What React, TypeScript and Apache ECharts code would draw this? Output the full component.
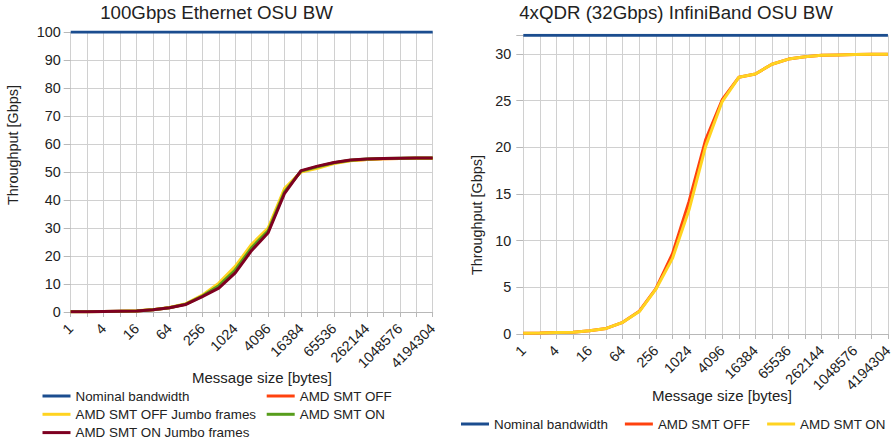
import React, { useEffect, useRef } from "react";
import * as echarts from "echarts";

const categories = ["1","2","4","8","16","32","64","128","256","512","1024","2048","4096","8192","16384","32768","65536","131072","262144","524288","1048576","2097152","4194304"];

const ethNominal = [100,100,100,100,100,100,100,100,100,100,100,100,100,100,100,100,100,100,100,100,100,100,100];
const ethSmtOff = [0.05,0.1,0.2,0.3,0.4,0.8,1.5,2.8,5.8,9.8,15.5,23.5,29.5,43.5,50.2,51.8,53.2,54.1,54.5,54.7,54.8,54.9,54.9];
const ethSmtOffJumbo = [0.05,0.1,0.2,0.3,0.45,0.85,1.6,3.0,6.0,10.3,16.3,24.2,30.0,44.2,50.0,51.3,53.0,54.0,54.5,54.7,54.8,54.9,54.9];
const ethSmtOn = [0.05,0.1,0.2,0.3,0.4,0.8,1.5,2.8,5.7,9.4,15.0,23.0,29.0,43.0,50.3,51.9,53.3,54.2,54.6,54.8,54.9,55.0,55.0];
const ethSmtOnJumbo = [0.05,0.1,0.2,0.3,0.4,0.8,1.5,2.7,5.5,8.5,14.0,22.0,28.3,42.4,50.5,52.1,53.4,54.3,54.6,54.8,54.9,55.0,55.0];

const ibNominal = [32,32,32,32,32,32,32,32,32,32,32,32,32,32,32,32,32,32,32,32,32,32,32];
const ibSmtOff = [0.07,0.1,0.15,0.2,0.35,0.6,1.25,2.45,4.85,8.6,14.2,20.8,25.1,27.5,27.85,28.9,29.45,29.7,29.85,29.9,29.95,29.97,29.97];
const ibSmtOn = [0.07,0.1,0.15,0.2,0.35,0.6,1.25,2.4,4.8,8.1,13.3,20.1,24.9,27.5,27.85,28.9,29.45,29.7,29.85,29.9,29.95,29.97,29.97];

const FONT = "Liberation Sans";
const TXT = "#222";
const GRID = "#d0d0d0";
const AXIS = "#b8b8b8";
const C_NOM = "#1b4d8f";
const C_OFF = "#ff420e";
const C_OFFJ = "#ffd320";
const C_ON = "#579d1c";
const C_ONJ = "#7e0021";

function line(name: string, data: number[], color: string) {
  return {
    name,
    type: "line",
    data,
    showSymbol: false,
    symbol: "none",
    lineStyle: { width: 3, color },
    itemStyle: { color },
  };
}

function xAxisCfg() {
  return {
    type: "category",
    data: categories,
    boundaryGap: false,
    axisLine: { show: true, lineStyle: { color: AXIS, width: 1 } },
    axisTick: { show: true, interval: 0, length: 5, lineStyle: { color: AXIS } },
    axisLabel: { interval: 1, rotate: 45, fontSize: 14.4, color: TXT, fontFamily: FONT, margin: 14 },
    splitLine: { show: true, interval: 0, lineStyle: { color: GRID, width: 1 } },
  };
}

function legendText() {
  return { fontSize: 13.4, color: TXT, fontFamily: FONT, lineHeight: 14 };
}

function leftOption(): any {
  return {
    animation: false,
    textStyle: { fontFamily: FONT },
    grid: { left: 70.7, right: 14.3, top: 32, bottom: 131 },
    xAxis: xAxisCfg(),
    yAxis: {
      type: "value",
      min: 0,
      max: 100,
      interval: 10,
      axisLine: { show: false },
      axisTick: { show: true, length: 7, lineStyle: { color: AXIS } },
      axisLabel: { fontSize: 14.4, color: TXT, fontFamily: FONT, margin: 10 },
      splitLine: { show: true, lineStyle: { color: GRID, width: 1 } },
    },
    legend: [
      {
        orient: "vertical",
        left: 42.5,
        top: 389,
        padding: 0,
        itemGap: 4.3,
        itemWidth: 28,
        itemHeight: 3,
        icon: "rect",
        textStyle: legendText(),
        data: ["Nominal bandwidth", "AMD SMT OFF Jumbo frames", "AMD SMT ON Jumbo frames"],
      },
      {
        orient: "vertical",
        left: 266.7,
        top: 389,
        padding: 0,
        itemGap: 4.3,
        itemWidth: 28,
        itemHeight: 3,
        icon: "rect",
        textStyle: legendText(),
        data: ["AMD SMT OFF", "AMD SMT ON"],
      },
    ],
    graphic: [
      { type: "text", x: 216.5, y: 12, style: { text: "100Gbps Ethernet OSU BW", font: `18.7px "${FONT}"`, fill: TXT, textAlign: "center", textVerticalAlign: "middle" } },
      { type: "text", x: 262, y: 377, style: { text: "Message size [bytes]", font: `15px "${FONT}"`, fill: TXT, textAlign: "center", textVerticalAlign: "middle" } },
      { type: "text", x: 13, y: 145, rotation: Math.PI / 2, style: { text: "Throughput [Gbps]", font: `14.4px "${FONT}"`, fill: TXT, textAlign: "center", textVerticalAlign: "middle" } },
    ],
    series: [
      line("Nominal bandwidth", ethNominal, C_NOM),
      line("AMD SMT OFF", ethSmtOff, C_OFF),
      line("AMD SMT OFF Jumbo frames", ethSmtOffJumbo, C_OFFJ),
      line("AMD SMT ON", ethSmtOn, C_ON),
      line("AMD SMT ON Jumbo frames", ethSmtOnJumbo, C_ONJ),
    ],
  };
}

function rightOption(): any {
  return {
    animation: false,
    textStyle: { fontFamily: FONT },
    grid: { left: 76.3, right: 3.3, top: 35.3, bottom: 109 },
    xAxis: xAxisCfg(),
    yAxis: {
      type: "value",
      min: 0,
      max: 32,
      interval: 5,
      axisLine: { show: false },
      axisTick: { show: true, length: 7, lineStyle: { color: AXIS } },
      axisLabel: {
        fontSize: 14.4,
        color: TXT,
        fontFamily: FONT,
        margin: 12,
        formatter: (v: number) => (v % 5 === 0 ? String(v) : ""),
      },
      splitLine: { show: true, lineStyle: { color: GRID, width: 1 } },
    },
    legend: {
      orient: "horizontal",
      left: 14,
      top: 417,
      padding: 0,
      itemGap: 17,
      itemWidth: 28,
      itemHeight: 3,
      icon: "rect",
      textStyle: legendText(),
      data: ["Nominal bandwidth", "AMD SMT OFF", "AMD SMT ON"],
    },
    graphic: [
      { type: "text", x: 229, y: 12, style: { text: "4xQDR (32Gbps) InfiniBand OSU BW", font: `18.7px "${FONT}"`, fill: TXT, textAlign: "center", textVerticalAlign: "middle" } },
      { type: "text", x: 275, y: 395, style: { text: "Message size [bytes]", font: `15px "${FONT}"`, fill: TXT, textAlign: "center", textVerticalAlign: "middle" } },
      { type: "text", x: 30, y: 215, rotation: Math.PI / 2, style: { text: "Throughput [Gbps]", font: `14.4px "${FONT}"`, fill: TXT, textAlign: "center", textVerticalAlign: "middle" } },
    ],
    series: [
      line("Nominal bandwidth", ibNominal, C_NOM),
      line("AMD SMT OFF", ibSmtOff, C_OFF),
      line("AMD SMT ON", ibSmtOn, C_OFFJ),
    ],
  };
}

function Chart({ option, style }: { option: any; style: React.CSSProperties }) {
  const ref = useRef<HTMLDivElement>(null);
  useEffect(() => {
    if (!ref.current) return;
    const chart = echarts.init(ref.current, undefined, { renderer: "svg" });
    chart.setOption(option);
    return () => chart.dispose();
  }, []);
  return <div ref={ref} style={style} />;
}

export default function App() {
  return (
    <div style={{ position: "absolute", left: 0, top: 0, width: 895, height: 443, background: "#fff" }}>
      <Chart option={leftOption()} style={{ position: "absolute", left: 0, top: 0, width: 447, height: 443 }} />
      <Chart option={rightOption()} style={{ position: "absolute", left: 447, top: 0, width: 448, height: 443 }} />
    </div>
  );
}
